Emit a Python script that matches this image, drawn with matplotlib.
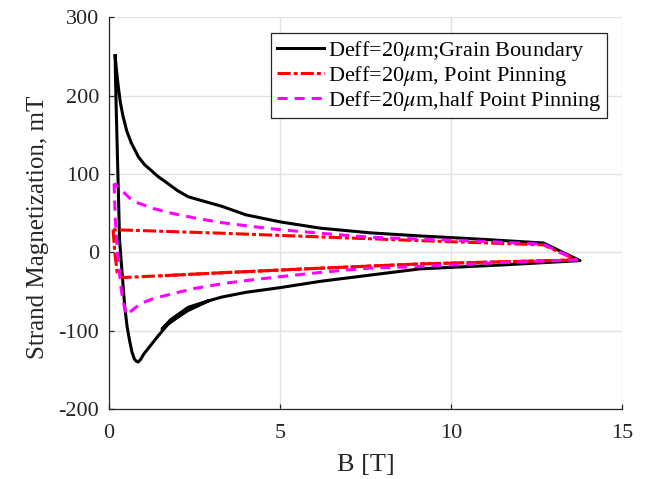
import numpy as np
import matplotlib
matplotlib.use('Agg')
import matplotlib.pyplot as plt

plt.rcParams['font.family'] = ['Liberation Serif', 'DejaVu Serif']
plt.rcParams['mathtext.fontset'] = 'stix'
plt.rcParams['axes.unicode_minus'] = False

# Magnetization loops, B in tesla and M in mT
# grain boundary pinning: ramp down the steep edge, lower branch out to the tip,
# upper branch back (with the short repeated stretch around 1.5-2.9 T)
gb_B = [0.18, 0.19, 0.21, 0.26, 0.31, 0.38, 0.46, 0.53, 0.60, 0.67, 0.74,
        0.80, 0.85, 0.92, 1.00, 1.05, 1.14, 1.43, 1.72, 2.00, 2.32, 2.90,
        2.32, 1.80, 1.55, 1.80, 2.32, 2.90, 3.30, 4.00, 5.00,
        6.17, 7.63, 9.10, 11.50, 13.77,
        12.70, 11.00, 9.10, 7.63, 6.17, 5.00, 4.00, 3.29, 2.80, 2.32, 2.00,
        1.72, 1.43, 1.20, 1.04, 0.86, 0.65, 0.52, 0.41, 0.33, 0.26, 0.21, 0.18]
gb_M = [251, 225, 186, 101, 16, -24, -69, -95, -112, -127, -136,
        -139, -140, -137, -131, -128, -123, -107, -92, -83, -73, -62,
        -70, -86, -98, -88, -74, -62, -57, -51, -45,
        -37, -29, -21, -16, -10.5,
        12, 16.5, 21, 25, 31, 39, 48, 59, 65, 71, 79,
        88, 97, 106, 112, 122, 140, 155, 174, 192, 216, 237, 251]

pp_B = [0.12, 0.17, 0.24, 0.36, 0.47, 3.30, 6.00, 9.10, 11.50, 13.67,
        12.70, 9.10, 3.30, 0.12]
pp_M = [29, 0, -26, -31.5, -32, -26, -20.5, -14.7, -12, -9.6,
        9.6, 15, 24.5, 29]

# second pass along the lower branch
pp2_B = [1.50, 3.30, 6.00, 9.10, 11.50, 13.67]
pp2_M = [-30, -26, -20.5, -14.7, -12, -9.6]

hp_B = [0.15, 0.18, 0.22, 0.26, 0.36, 0.45, 0.52, 0.70, 0.94, 1.30, 1.83,
        2.50, 3.39, 4.20, 5.00, 6.30, 7.63, 9.10, 11.50, 13.67,
        12.70, 11.00, 9.10, 7.63, 6.30, 5.00, 4.20, 3.30, 2.50, 1.83, 1.30,
        0.86, 0.66, 0.40, 0.15]
hp_M = [88, 46, 20, -5, -48, -70, -80, -73, -65, -59, -53,
        -46, -39.4, -35, -31, -25, -20, -18, -13, -9.6,
        10.5, 14, 17, 19.4, 24, 29, 33, 38, 44, 50, 56,
        63, 67, 78, 88]

fig = plt.figure(figsize=(6.46, 4.79), dpi=100)
ax = fig.add_axes([0.1687, 0.1461, 0.7943, 0.8174])

dashdot = [4.3, 1.0, 1.3, 1.0]

ax.plot(gb_B, gb_M, color='black', lw=2.2, solid_joinstyle='round',
        label=r'Deff=20$\mu$m;Grain Boundary')
ax.plot(pp_B, pp_M, color='red', lw=2.2, linestyle=(0, dashdot),
        label=r'Deff=20$\mu$m, Point Pinning')
ax.plot(pp2_B, pp2_M, color='red', lw=2.2, linestyle=(3.5, dashdot))
ax.plot(hp_B, hp_M, color='magenta', lw=2.2, linestyle=(0, [3.3, 2.3]),
        label=r'Deff=20$\mu$m,half Point Pinning')

ax.set_xlim(0, 15)
ax.set_ylim(-200, 300)
ax.set_xticks([0, 5, 10, 15])
ax.set_yticks(np.arange(-200, 301, 100))
ax.grid(True, color='#e2e2e2', lw=1.0)
ax.set_axisbelow(True)

for s in ['top', 'right']:
    ax.spines[s].set_visible(False)
for s in ['left', 'bottom']:
    ax.spines[s].set_color('#262626')
    ax.spines[s].set_linewidth(0.9)
ax.tick_params(direction='in', length=3.5, width=0.9, colors='#262626',
               labelsize=16)
ax.tick_params(axis='x', pad=11)
ax.tick_params(axis='y', pad=7)

ax.set_xlabel('B [T]', fontsize=19, color='#262626', labelpad=8)
ax.set_ylabel('Strand Magnetization, mT', fontsize=18, color='#262626')
ax.yaxis.set_label_coords(-0.116, 0.465)

leg = ax.legend(loc='upper right', bbox_to_anchor=(0.971, 0.960),
                borderaxespad=0, fontsize=16, handlelength=2.1,
                handletextpad=0.2, labelspacing=0.05, borderpad=0.25,
                fancybox=False, framealpha=1, edgecolor='#262626')
leg.get_frame().set_linewidth(0.9)

fig.savefig('out.png', dpi=100)
